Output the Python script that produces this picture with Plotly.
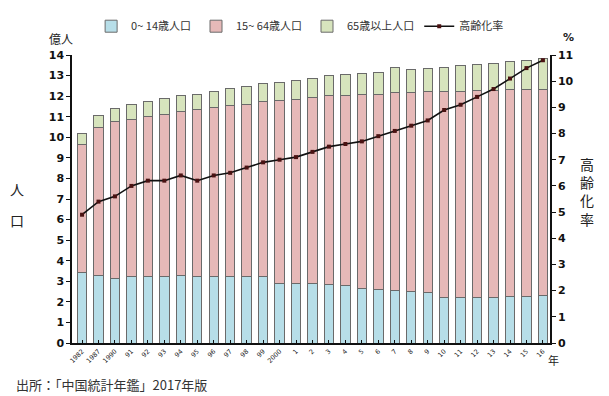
import plotly.graph_objects as go

# Year labels along the category axis
years = ["1982", "1987", "1990", "91", "92", "93", "94", "95", "96", "97", "98", "99",
         "2000", "1", "2", "3", "4", "5", "6", "7", "8", "9", "10", "11", "12", "13",
         "14", "15", "16"]

# Population by age group (hundred millions)
age_0_14 = [3.41, 3.28, 3.13, 3.21, 3.22, 3.22, 3.26, 3.22, 3.23, 3.23, 3.21, 3.21,
            2.90, 2.88, 2.87, 2.84, 2.79, 2.65, 2.59, 2.57, 2.52, 2.47, 2.23, 2.22,
            2.23, 2.23, 2.26, 2.27, 2.31]
age_15_64 = [6.25, 7.20, 7.63, 7.66, 7.79, 7.91, 7.99, 8.11, 8.20, 8.31, 8.40, 8.53,
             8.88, 8.98, 9.07, 9.17, 9.26, 9.42, 9.51, 9.62, 9.67, 9.75, 9.99, 10.03,
             10.04, 10.06, 10.05, 10.04, 10.03]
age_65_plus = [0.50, 0.60, 0.64, 0.70, 0.72, 0.74, 0.76, 0.77, 0.81, 0.84, 0.87, 0.87,
               0.88, 0.91, 0.94, 0.97, 0.99, 1.01, 1.04, 1.18, 1.10, 1.13, 1.19, 1.23,
               1.27, 1.32, 1.38, 1.44, 1.50]

# Share of population aged 65+ (%)
aging_rate = [4.9, 5.4, 5.6, 6.0, 6.2, 6.2, 6.4, 6.2, 6.4, 6.5, 6.7, 6.9, 7.0, 7.1,
              7.3, 7.5, 7.6, 7.7, 7.9, 8.1, 8.3, 8.5, 8.9, 9.1, 9.4, 9.7, 10.1, 10.5, 10.8]

JP = "Noto Sans CJK JP"
NUM = "DejaVu Sans"
outline = dict(color="#6a6a6a", width=1)

fig = go.Figure()
fig.add_trace(go.Bar(x=years, y=age_0_14, name="0~ 14歳人口",
                     marker=dict(color="#B7DEE8", line=outline)))
fig.add_trace(go.Bar(x=years, y=age_15_64, name="15~ 64歳人口",
                     marker=dict(color="#E6B9B8", line=outline)))
fig.add_trace(go.Bar(x=years, y=age_65_plus, name="65歳以上人口",
                     marker=dict(color="#D7E4BD", line=outline)))
fig.add_trace(go.Scatter(x=years, y=aging_rate, name="高齢化率", yaxis="y2",
                         mode="lines+markers",
                         line=dict(color="#111111", width=1.6),
                         marker=dict(symbol="square", size=4, color="#4a1212")))

fig.update_layout(
    width=609, height=396,
    margin=dict(l=72, r=59, t=42, b=53),
    paper_bgcolor="white", plot_bgcolor="white",
    barmode="stack", bargap=0.43,
    font=dict(family=JP, size=11, color="#222222"),
    showlegend=True,
    legend=dict(orientation="h", x=0.04, xanchor="left", y=1.1, yanchor="middle",
                font=dict(family=JP, size=11, color="#333333"),
                itemwidth=30, traceorder="normal", bgcolor="rgba(0,0,0,0)"),
    xaxis=dict(type="category", range=[-0.61, 28.43],
               showline=True, linecolor="#111111", linewidth=2,
               ticks="inside", ticklen=3, tickcolor="#111111",
               tickangle=-45, tickfont=dict(family=NUM, size=6.5, color="#222222"),
               showgrid=False, zeroline=False),
    yaxis=dict(range=[0, 14], dtick=1, showline=True, linecolor="#111111", linewidth=1.5,
               ticks="outside", ticklen=4, tickcolor="#111111",
               tickfont=dict(family=NUM, size=11, color="#111111", weight="bold"),
               showgrid=False, zeroline=False),
    yaxis2=dict(range=[0, 11], dtick=1, overlaying="y", side="right",
                showline=True, linecolor="#111111", linewidth=1.5,
                ticks="outside", ticklen=4, tickcolor="#111111",
                tickfont=dict(family=NUM, size=11, color="#111111", weight="bold"),
                showgrid=False, zeroline=False),
    yaxis3=dict(range=[0, 14], dtick=1, overlaying="y", side="left",
                ticks="inside", ticklen=4, tickcolor="#111111",
                showticklabels=False, showgrid=False, zeroline=False, showline=False),
    yaxis4=dict(range=[0, 11], dtick=1, overlaying="y", side="right",
                ticks="inside", ticklen=4, tickcolor="#111111",
                showticklabels=False, showgrid=False, zeroline=False, showline=False),
)

annotations = [
    dict(text="億人", x=61, y=25, font=dict(size=12)),
    dict(text="%", x=568, y=24, font=dict(family=NUM, size=11, weight="bold")),
    dict(text="人", x=17, y=182, font=dict(size=14)),
    dict(text="口", x=17, y=214, font=dict(size=14)),
    dict(text="高<br>齢<br>化<br>率", x=587, y=185, font=dict(size=14)),
    dict(text="年", x=553, y=361, font=dict(size=11)),
    dict(text="出所：「中国統計年鑑」2017年版", x=14, y=386, xanchor="left",
         font=dict(size=13, color="#333333")),
]
for a in annotations:
    fig.add_annotation(
        text=a["text"], xref="paper", yref="paper",
        x=(a["x"] - 72) / 478, y=1 - (a["y"] - 42) / 301,
        xanchor=a.get("xanchor", "center"), yanchor="middle",
        showarrow=False, font=a["font"])

fig.write_html("out.html")
